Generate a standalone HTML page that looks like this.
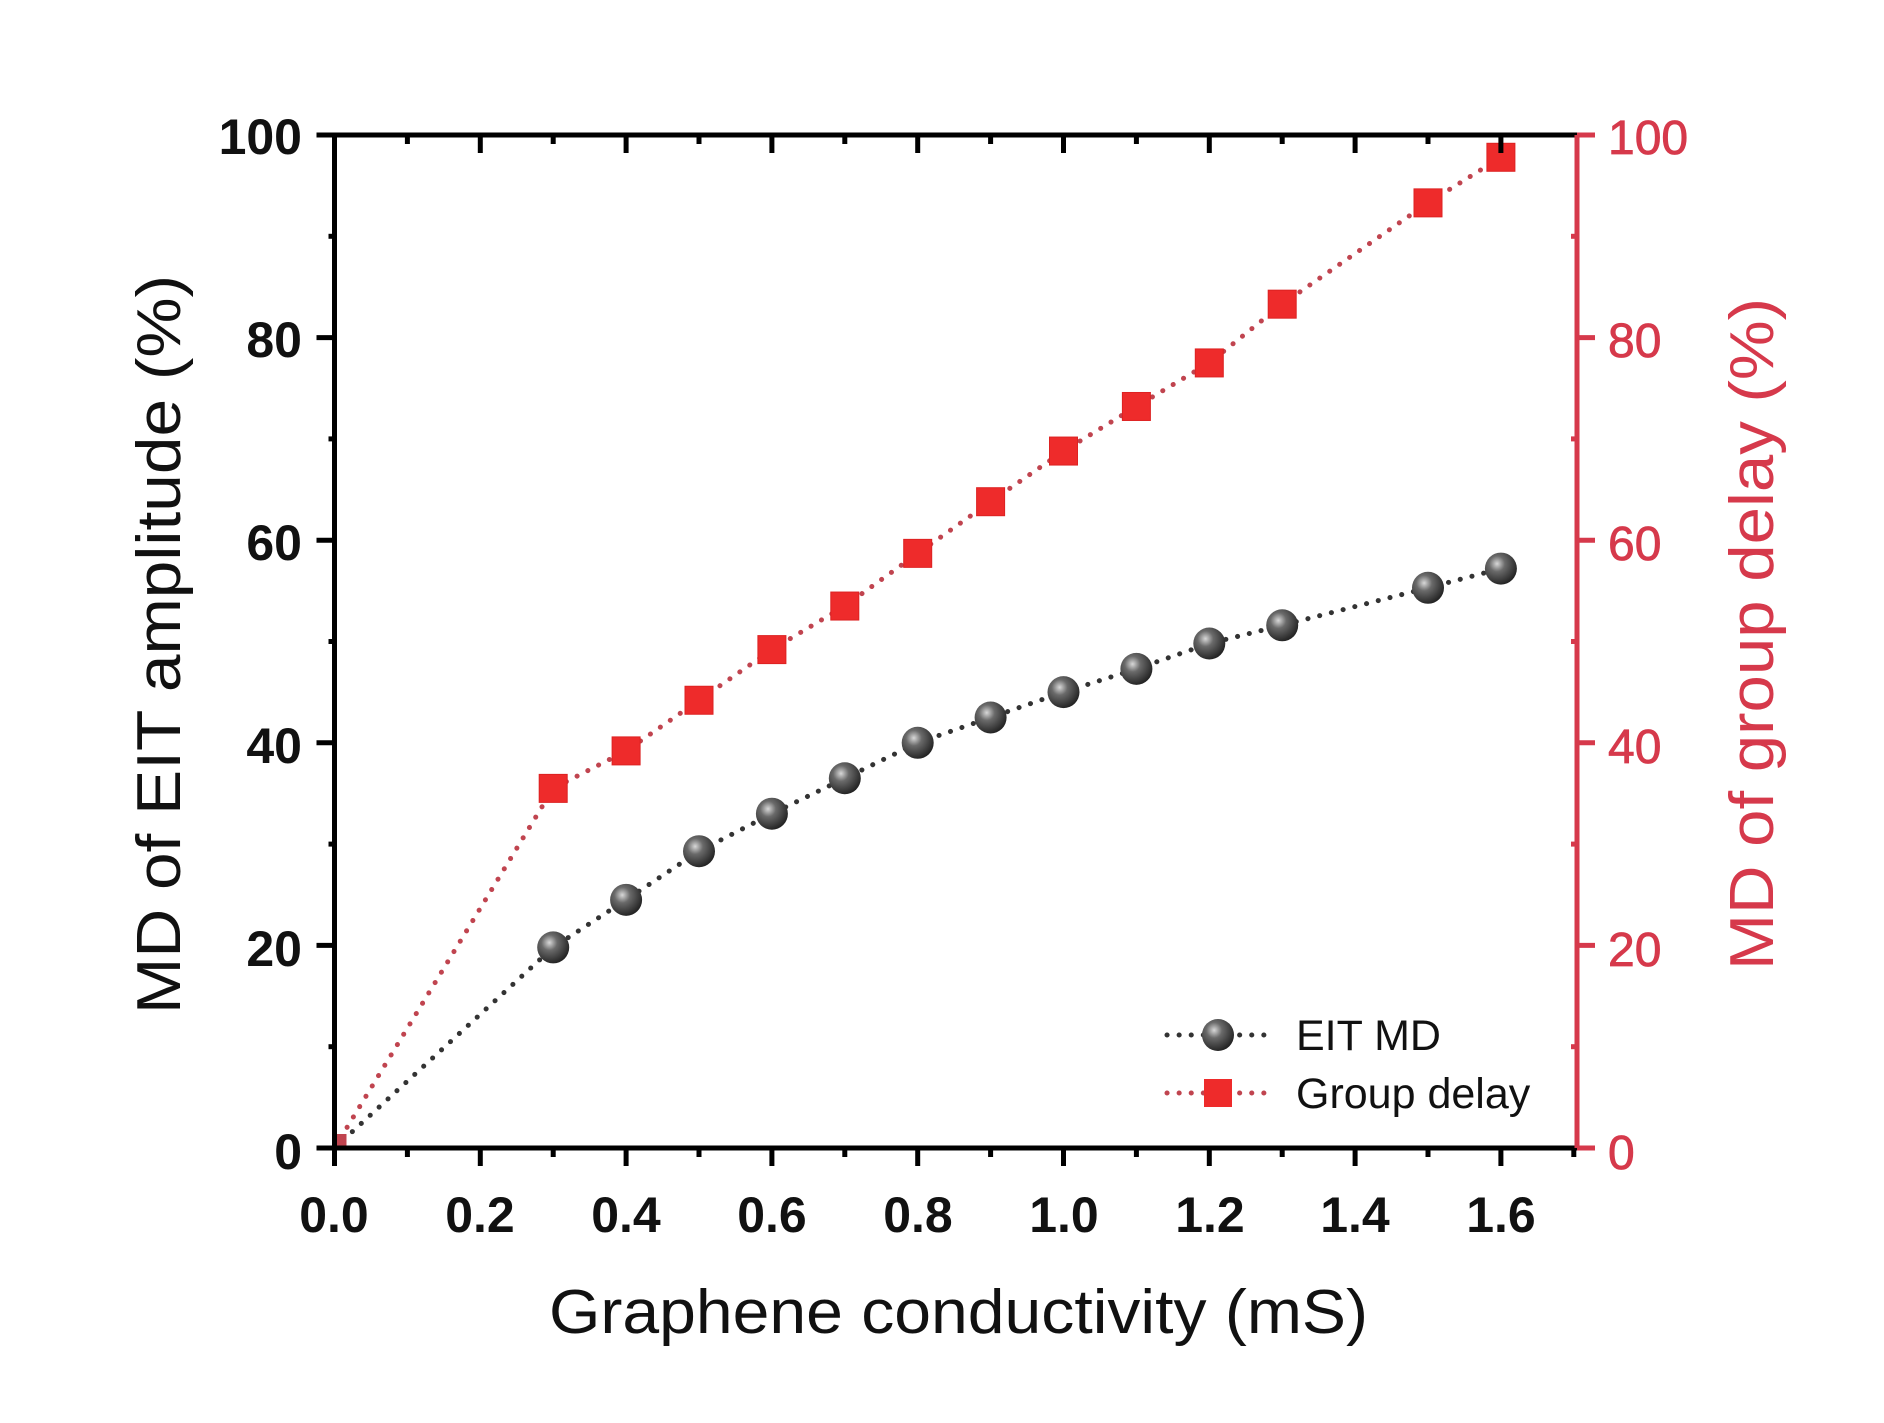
<!DOCTYPE html>
<html><head><meta charset="utf-8"><style>html,body{margin:0;padding:0;background:#fff}svg{display:block}</style></head>
<body>
<svg id="s" width="1884" height="1423" viewBox="0 0 1884 1423" xmlns="http://www.w3.org/2000/svg" font-family="Liberation Sans, Arial, sans-serif">
<defs>
<radialGradient id="sph" cx="0.38" cy="0.35" r="0.7">
<stop offset="0" stop-color="#d8d8d8"/><stop offset="0.35" stop-color="#6a6a6a"/><stop offset="1" stop-color="#1e1e1e"/>
</radialGradient>
</defs>
<g id="plot"></g>
<g font-weight="bold" font-size="50" fill="#111" text-anchor="end">
<text x="302" y="154">100</text>
<text x="302" y="357">80</text>
<text x="302" y="560">60</text>
<text x="302" y="763">40</text>
<text x="302" y="966">20</text>
<text x="302" y="1169">0</text>
</g>
<g font-size="48" fill="#d6394b" text-anchor="start" stroke="#d6394b" stroke-width="0.8">
<text x="1608" y="154">100</text>
<text x="1608" y="357">80</text>
<text x="1608" y="560">60</text>
<text x="1608" y="763">40</text>
<text x="1608" y="966">20</text>
<text x="1608" y="1169">0</text>
</g>
<g font-weight="bold" font-size="50" fill="#111" text-anchor="middle">
<text x="334" y="1232">0.0</text>
<text x="480" y="1232">0.2</text>
<text x="626" y="1232">0.4</text>
<text x="772" y="1232">0.6</text>
<text x="918" y="1232">0.8</text>
<text x="1064" y="1232">1.0</text>
<text x="1210" y="1232">1.2</text>
<text x="1355" y="1232">1.4</text>
<text x="1501" y="1232">1.6</text>
</g>
<text x="549" y="1333" font-size="62" fill="#111" textLength="819" lengthAdjust="spacingAndGlyphs">Graphene conductivity (mS)</text>
<text transform="translate(180,1014) rotate(-90)" font-size="62" fill="#111" textLength="739" lengthAdjust="spacingAndGlyphs">MD of EIT amplitude (%)</text>
<text transform="translate(1773,970) rotate(-90)" font-size="62" fill="#d6394b" textLength="672" lengthAdjust="spacingAndGlyphs">MD of group delay (%)</text>
<g font-size="43" fill="#111">
<text x="1296" y="1050">EIT MD</text>
<text x="1296" y="1108">Group delay</text>
</g>
</svg>
<script>
var X0=334.5,XU=729,Y0=1148,YU=10.13;
function X(v){return X0+v*XU}function Y(p){return Y0-p*YU}
var g=document.getElementById('plot'),h='';
var xs=[0,0.3,0.4,0.5,0.6,0.7,0.8,0.9,1.0,1.1,1.2,1.3,1.5,1.6];
var e=[0,19.8,24.5,29.3,33,36.5,40,42.5,45,47.3,49.8,51.6,55.3,57.2];
var r=[0,35.5,39.2,44.2,49.2,53.5,58.7,63.8,68.8,73.2,77.5,83.3,93.3,97.8];
function pl(a,c){var s='';for(var i=0;i<xs.length;i++)s+=X(xs[i]).toFixed(1)+','+Y(a[i]).toFixed(1)+' ';
return '<polyline points="'+s+'" fill="none" stroke="'+c+'" stroke-width="5" stroke-dasharray="0.1,12" stroke-linecap="round"/>';}
h+=pl(r,'#c0444f');h+=pl(e,'#333');
for(var i=1;i<xs.length;i++){h+='<rect x="'+(X(xs[i])-14)+'" y="'+(Y(r[i])-14)+'" width="28" height="28" fill="#ee2b2b" stroke="#d22" stroke-width="1"/>';}
h+='<rect x="'+(X(0))+'" y="'+(Y(0)-14)+'" width="12" height="14" fill="#c0444f"/>';
for(var i=1;i<xs.length;i++){h+='<circle cx="'+X(xs[i])+'" cy="'+Y(e[i])+'" r="16" fill="url(#sph)"/>';}
var L=X(0),R=1577,T=Y(100),B=Y(0);
h+='<line x1="'+(L-2)+'" y1="'+T+'" x2="'+R+'" y2="'+T+'" stroke="#000" stroke-width="5"/>';
h+='<line x1="'+L+'" y1="'+T+'" x2="'+L+'" y2="'+(B+2)+'" stroke="#000" stroke-width="5"/>';
h+='<line x1="'+(L-2)+'" y1="'+B+'" x2="'+R+'" y2="'+B+'" stroke="#000" stroke-width="5"/>';
h+='<line x1="'+R+'" y1="'+T+'" x2="'+R+'" y2="'+B+'" stroke="#d6394b" stroke-width="5"/>';
for(var k=0;k<=17;k++){var x=X(k/10),m=(k%2==0);
h+='<line x1="'+x+'" y1="'+B+'" x2="'+x+'" y2="'+(B+(m?18:9))+'" stroke="#000" stroke-width="5"/>';
if(k>0&&k<17)h+='<line x1="'+x+'" y1="'+T+'" x2="'+x+'" y2="'+(T+(m?18:9))+'" stroke="#000" stroke-width="5"/>';}
for(var k=0;k<=10;k++){var y=Y(k*10),m=(k%2==0);
h+='<line x1="'+L+'" y1="'+y+'" x2="'+(L-(m?18:6))+'" y2="'+y+'" stroke="#000" stroke-width="5"/>';
h+='<line x1="'+R+'" y1="'+y+'" x2="'+(m?R+18:R-6)+'" y2="'+y+'" stroke="#d6394b" stroke-width="5"/>';}
h+='<line x1="1167" y1="1035" x2="1272" y2="1035" stroke="#333" stroke-width="5" stroke-dasharray="0.1,12" stroke-linecap="round"/>';
h+='<circle cx="1218" cy="1035" r="16" fill="url(#sph)"/>';
h+='<line x1="1167" y1="1093" x2="1272" y2="1093" stroke="#c0444f" stroke-width="5" stroke-dasharray="0.1,12" stroke-linecap="round"/>';
h+='<rect x="1204" y="1079" width="28" height="28" fill="#ee2b2b"/>';
g.innerHTML=h;
</script>
</body></html>
